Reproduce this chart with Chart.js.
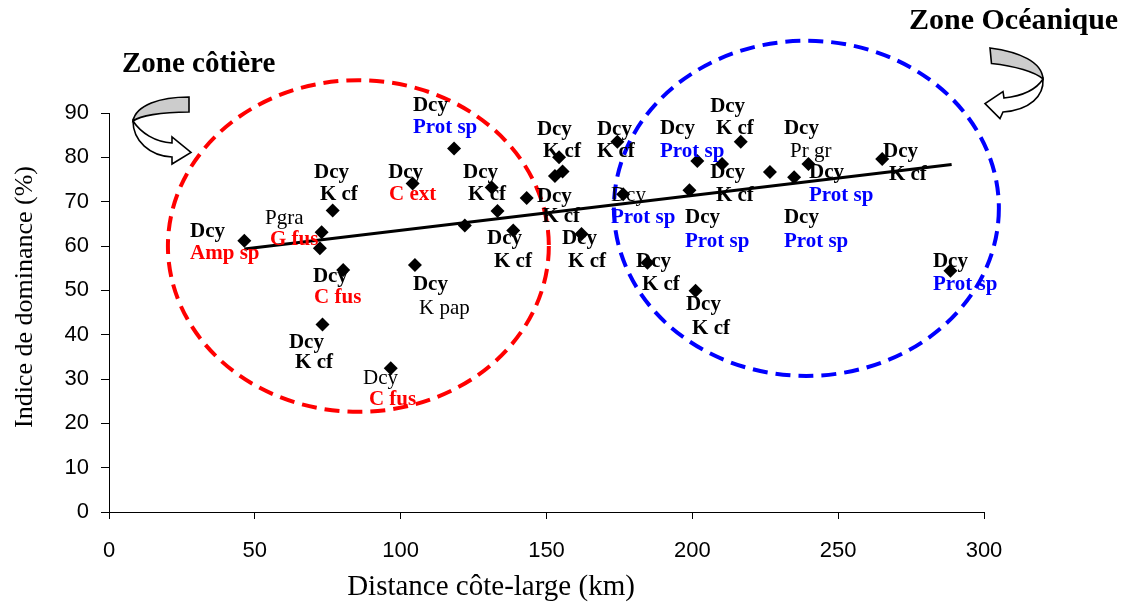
<!DOCTYPE html>
<html>
<head>
<meta charset="utf-8">
<title>Indice de dominance - distance côte-large</title>
<script src="https://cdn.jsdelivr.net/npm/chart.js@4.4.1/dist/chart.umd.min.js"></script>
<style>
  html, body { margin: 0; padding: 0; background: #ffffff; }
  canvas { display: block; }
</style>
</head>
<body>
<canvas id="chart" width="1122" height="606"></canvas>
<script>
// Stations: distance from the coast (km) and dominance index (%)
const distanceKm = [46.4, 72.9, 72.3, 76.7, 80.3, 73.2, 96.6, 104.9, 104.1, 118.3, 122.0,
  131.2, 133.2, 143.2, 138.6, 154.3, 152.9, 155.5, 162.0, 174.3, 176.3, 184.6,
  201.1, 201.7, 199.0, 210.2, 216.6, 226.6, 234.9, 239.8, 265.1, 288.5];
const dominance = [61.2, 63.1, 59.5, 68.0, 54.6, 42.3, 32.4, 55.7, 74.1, 82.0, 64.6,
  73.2, 67.9, 70.8, 63.5, 80.0, 75.8, 76.8, 62.7, 83.5, 71.7, 56.2,
  49.9, 79.2, 72.6, 78.5, 83.5, 76.7, 75.5, 78.5, 79.6, 54.4];

// Linear trend, end points
const trendX = [46.4, 288.9];
const trendY = [59.3, 78.4];

// Axis ticks
const xTicks = [0, 50, 100, 150, 200, 250, 300];
const yTicks = [0, 10, 20, 30, 40, 50, 60, 70, 80, 90];

// Zones (centre and half-axes in km / %)
const zoneNames = ['Zone côtière', 'Zone Océanique'];
const zoneCentreX = [85.5, 239.1];
const zoneCentreY = [60.0, 68.5];
const zoneHalfX = [65.3, 66.0];
const zoneHalfY = [37.4, 37.8];

// Dominant species notes: anchor (km, %), text, style key
const noteX = [27.8, 27.8, 53.5, 55.2, 70.3, 72.3, 69.9, 70.3, 61.7, 63.8, 87.1, 89.1,
  104.2, 106.3, 95.7, 96.0, 104.2, 104.2, 121.4, 123.1, 146.7, 148.8, 167.3, 167.3,
  146.7, 148.5, 129.6, 132.0, 155.3, 157.4, 172.1, 172.1, 180.7, 182.7, 206.1, 208.1,
  188.9, 188.9, 231.4, 233.5, 206.1, 208.1, 240.0, 240.0, 265.4, 267.4, 197.5, 197.5,
  231.4, 231.4, 197.8, 199.9, 282.5, 282.5];
const noteY = [63.2, 58.4, 66.3, 61.4, 76.5, 71.5, 53.0, 48.3, 38.3, 33.6, 30.2, 25.3,
  51.2, 46.0, 76.5, 71.5, 91.6, 86.6, 76.5, 71.5, 86.2, 81.4, 86.2, 81.4,
  71.1, 66.6, 61.6, 56.4, 61.6, 56.4, 71.5, 66.3, 56.4, 51.4, 91.4, 86.4,
  86.4, 81.2, 86.4, 81.4, 76.5, 71.3, 76.5, 71.3, 81.4, 76.2, 66.3, 61.1,
  66.3, 61.1, 46.7, 41.3, 56.4, 51.4];
const noteText = ['Dcy', 'Amp sp', 'Pgra', 'G fus', 'Dcy', 'K cf', 'Dcy', 'C fus', 'Dcy', 'K cf', 'Dcy', 'C fus',
  'Dcy', 'K pap', 'Dcy', 'C ext', 'Dcy', 'Prot sp', 'Dcy', 'K cf', 'Dcy', 'K cf', 'Dcy', 'K cf',
  'Dcy', 'K cf', 'Dcy', 'K cf', 'Dcy', 'K cf', 'Dcy', 'Prot sp', 'Dcy', 'K cf', 'Dcy', 'K cf',
  'Dcy', 'Prot sp', 'Dcy', 'Pr gr', 'Dcy', 'K cf', 'Dcy', 'Prot sp', 'Dcy', 'K cf', 'Dcy', 'Prot sp',
  'Dcy', 'Prot sp', 'Dcy', 'K cf', 'Dcy', 'Prot sp'];
const noteKind = ['b', 'r', 'n', 'r', 'b', 'b', 'b', 'r', 'b', 'b', 'n', 'r',
  'b', 'n', 'b', 'r', 'b', 'u', 'b', 'b', 'b', 'b', 'b', 'b',
  'b', 'b', 'b', 'b', 'b', 'b', 'n', 'u', 'b', 'b', 'b', 'b',
  'b', 'u', 'b', 'n', 'b', 'b', 'b', 'u', 'b', 'b', 'b', 'u',
  'b', 'u', 'b', 'b', 'b', 'u'];

const SERIF = '"Liberation Serif", "Times New Roman", serif';
const SANS = '"Liberation Sans", Arial, sans-serif';
const noteStyles = {
  b: { font: 'bold 21px ' + SERIF, color: '#000000' },
  n: { font: '21px ' + SERIF, color: '#000000' },
  r: { font: 'bold 21px ' + SERIF, color: '#ff0000' },
  u: { font: 'bold 21px ' + SERIF, color: '#0000ff' }
};
const zoneColours = ['#ff0000', '#0000ff'];

const points = distanceKm.map((x, i) => ({ x: x, y: dominance[i] }));
const trend = trendX.map((x, i) => ({ x: x, y: trendY[i] }));

// Curved "turn" arrow: grey back face and white front face with head
function drawTurnArrow(ctx, grey, white) {
  ctx.save();
  ctx.lineWidth = 1.6;
  ctx.strokeStyle = '#000000';
  ctx.lineJoin = 'miter';
  ctx.beginPath();
  grey(ctx);
  ctx.closePath();
  ctx.fillStyle = '#cccccc';
  ctx.fill();
  ctx.stroke();
  ctx.beginPath();
  white(ctx);
  ctx.closePath();
  ctx.fillStyle = '#ffffff';
  ctx.fill();
  ctx.stroke();
  ctx.restore();
}

const zonePlugin = {
  id: 'zones',
  beforeDatasetsDraw(chart) {
    const { ctx, scales: { x, y } } = chart;
    ctx.save();
    ctx.lineWidth = 4;
    ctx.setLineDash([15, 8]);
    for (let i = 0; i < zoneCentreX.length; i++) {
      const cx = x.getPixelForValue(zoneCentreX[i]);
      const cy = y.getPixelForValue(zoneCentreY[i]);
      const rx = Math.abs(x.getPixelForValue(zoneCentreX[i] + zoneHalfX[i]) - cx);
      const ry = Math.abs(y.getPixelForValue(zoneCentreY[i] + zoneHalfY[i]) - cy);
      ctx.strokeStyle = zoneColours[i];
      ctx.beginPath();
      ctx.ellipse(cx, cy, rx, ry, 0, 0, Math.PI * 2);
      ctx.stroke();
    }
    ctx.restore();
  },
  afterDatasetsDraw(chart) {
    const { ctx, scales: { x, y } } = chart;
    ctx.save();
    ctx.textAlign = 'left';
    ctx.textBaseline = 'middle';
    for (let i = 0; i < noteText.length; i++) {
      const st = noteStyles[noteKind[i]];
      ctx.font = st.font;
      ctx.fillStyle = st.color;
      ctx.fillText(noteText[i], x.getPixelForValue(noteX[i]), y.getPixelForValue(noteY[i]));
    }

    // zone headings
    ctx.fillStyle = '#000000';
    ctx.font = 'bold 29px ' + SERIF;
    ctx.fillText(zoneNames[0], 122, 65);
    ctx.font = 'bold 30px ' + SERIF;
    ctx.fillText(zoneNames[1], 909, 21);

    // axis titles
    ctx.font = '29px ' + SERIF;
    ctx.textAlign = 'center';
    ctx.textBaseline = 'alphabetic';
    ctx.fillText('Distance côte-large (km)', 491, 595);
    ctx.save();
    ctx.translate(32, 297);
    ctx.rotate(-Math.PI / 2);
    ctx.font = '26px ' + SERIF;
    ctx.fillText('Indice de dominance (%)', 0, 0);
    ctx.restore();

    // arrows pointing into each zone
    drawTurnArrow(ctx,
      c => { c.moveTo(189, 97); c.bezierCurveTo(160, 97, 136, 105, 133, 121);
             c.bezierCurveTo(140, 116, 160, 112, 189, 112); },
      c => { c.moveTo(133, 121); c.bezierCurveTo(133, 141, 150, 156, 172, 157);
             c.lineTo(172, 164); c.lineTo(191, 152.5); c.lineTo(172, 137); c.lineTo(172, 143);
             c.bezierCurveTo(155, 142, 141, 133, 133, 121); });
    drawTurnArrow(ctx,
      c => { c.moveTo(990, 48); c.bezierCurveTo(1020, 52, 1042, 62, 1043, 79);
             c.bezierCurveTo(1035, 72, 1015, 66, 991.5, 63.5); },
      c => { c.moveTo(1043, 79); c.bezierCurveTo(1044, 96, 1030, 110, 1003, 112);
             c.lineTo(1000, 118.5); c.lineTo(985, 103.5); c.lineTo(1003, 91.5); c.lineTo(1004, 98);
             c.bezierCurveTo(1022, 96, 1036, 90, 1043, 79); });
    ctx.restore();
  }
};

new Chart(document.getElementById('chart'), {
  type: 'scatter',
  data: {
    datasets: [
      {
        data: points,
        pointStyle: 'rectRot',
        pointRadius: 7,
        pointHoverRadius: 7,
        backgroundColor: '#000000',
        borderColor: '#000000',
        borderWidth: 0,
        showLine: false
      },
      {
        type: 'line',
        data: trend,
        borderColor: '#000000',
        borderWidth: 3,
        pointRadius: 0,
        fill: false,
        tension: 0
      }
    ]
  },
  options: {
    responsive: false,
    animation: false,
    devicePixelRatio: 1,
    layout: { padding: { left: 0, right: 138, top: 113, bottom: 0 } },
    plugins: { legend: { display: false }, tooltip: { enabled: false }, title: { display: false } },
    scales: {
      x: {
        type: 'linear',
        min: 0, max: 300,
        afterFit(scale) { scale.height = 94; },
        afterBuildTicks(scale) { scale.ticks = xTicks.map(v => ({ value: v })); },
        border: { display: true, color: '#000000', width: 1 },
        grid: { display: true, drawOnChartArea: false, drawTicks: true, tickLength: 7, color: '#000000', lineWidth: 1 },
        ticks: { color: '#000000', font: { family: SANS, size: 22 }, padding: 19, maxRotation: 0 }
      },
      y: {
        type: 'linear',
        min: 0, max: 90,
        afterFit(scale) { scale.width = 109; },
        afterBuildTicks(scale) { scale.ticks = yTicks.map(v => ({ value: v })); },
        border: { display: true, color: '#000000', width: 1 },
        grid: { display: true, drawOnChartArea: false, drawTicks: true, tickLength: 8, color: '#000000', lineWidth: 1 },
        ticks: { color: '#000000', font: { family: SANS, size: 22 }, padding: 12 }
      }
    }
  },
  plugins: [zonePlugin]
});
</script>
</body>
</html>
